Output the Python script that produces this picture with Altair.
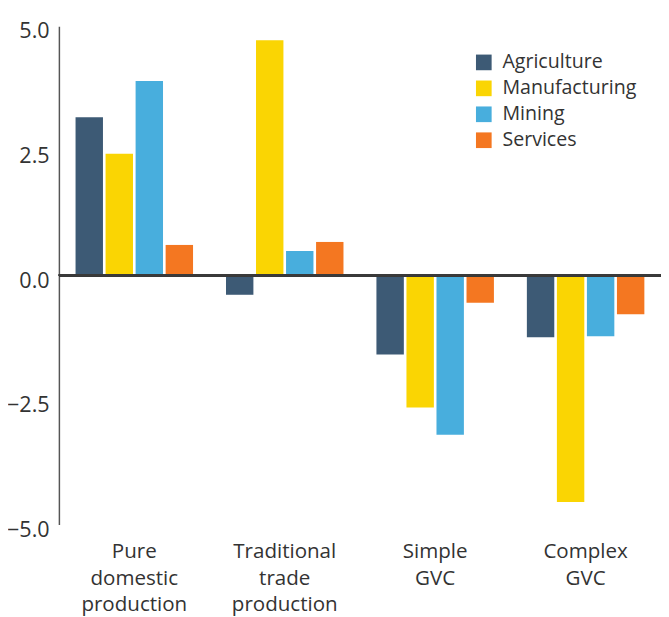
import altair as alt
import pandas as pd

categories = ["Pure|domestic|production", "Traditional|trade|production", "Simple|GVC", "Complex|GVC"]
sectors = ["Agriculture", "Manufacturing", "Mining", "Services"]
colors = ["#3D5A75", "#FAD503", "#48AEDD", "#F47721"]

agriculture = [3.17, -0.39, -1.59, -1.24]
manufacturing = [2.44, 4.72, -2.65, -4.55]
mining = [3.90, 0.49, -3.20, -1.22]
services = [0.61, 0.67, -0.55, -0.78]

series = {"Agriculture": agriculture, "Manufacturing": manufacturing,
          "Mining": mining, "Services": services}
rows = []
for s in sectors:
    for c, v in zip(categories, series[s]):
        rows.append({"category": c, "sector": s, "value": v})
df = pd.DataFrame(rows)

FONT = "Open Sans"
TXT = "#333333"

bars = alt.Chart(df).mark_bar().encode(
    x=alt.X("category:N", sort=categories,
            scale=alt.Scale(paddingInner=0.219, paddingOuter=0.1106),
            axis=alt.Axis(title=None, labelAngle=0, domain=False, ticks=False,
                          labelExpr="split(datum.label, '|')",
                          labelFontSize=21, labelLineHeight=27, labelPadding=17,
                          labelColor=TXT, labelFont=FONT, labelBaseline="top")),
    xOffset=alt.XOffset("sector:N", sort=sectors,
                        scale=alt.Scale(paddingInner=0.087)),
    y=alt.Y("value:Q", scale=alt.Scale(domain=[-5, 5], nice=False),
            axis=alt.Axis(title=None, values=[-5, -2.5, 0, 2.5, 5], format=".1f",
                          grid=False, ticks=False, domainColor="#555555",
                          domainWidth=1.5, labelFontSize=22, labelPadding=10,
                          labelOffset=5, labelColor=TXT, labelFont=FONT)),
    color=alt.Color("sector:N", sort=sectors,
                    scale=alt.Scale(domain=sectors, range=colors),
                    legend=alt.Legend(title=None, orient="none", legendX=424, legendY=27,
                                      symbolType="square", symbolSize=256,
                                      symbolStrokeWidth=0, labelFontSize=20,
                                      labelFont=FONT, labelColor=TXT, rowPadding=6.5,
                                      labelOffset=9, padding=0)),
)

zero = alt.Chart(df).mark_rule(color="#3a3a3a", strokeWidth=2).encode(
    y=alt.datum(0)
)

chart = alt.layer(bars, zero).properties(
    width=615, height=509,
    autosize=alt.AutoSizeParams(type="none"),
    padding={"left": 52, "top": 12, "right": 0, "bottom": 92},
).configure_view(stroke=None)

chart.save("out.html", embed_options={"renderer": "svg", "actions": False})
